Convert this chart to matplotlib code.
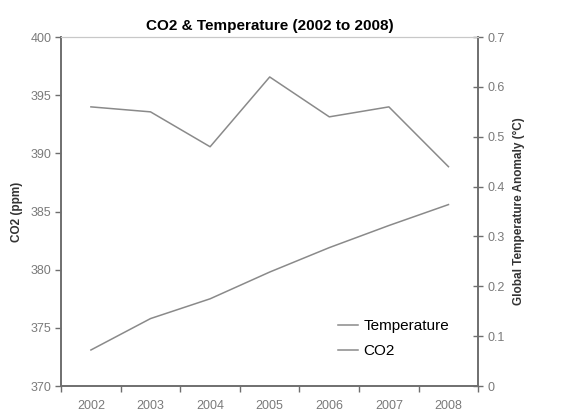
import numpy as np
import matplotlib

matplotlib.use("Agg")
import matplotlib.pyplot as plt

plt.rcParams["font.family"] = ["Liberation Sans", "DejaVu Sans"]

# Data
years = ["2002", "2003", "2004", "2005", "2006", "2007", "2008"]
co2_ppm = [373.1, 375.8, 377.5, 379.8, 381.9, 383.8, 385.6]
temp_anomaly = [0.56, 0.55, 0.48, 0.62, 0.54, 0.56, 0.44]

line_color = "#8a8a8a"
axis_color = "#6e6e6e"
tick_text = "#7a7a7a"

fig = plt.figure(figsize=(5.66, 4.12), dpi=100)
ax = fig.add_axes([0.108, 0.063, 0.737, 0.847])
ax2 = ax.twinx()

x = np.arange(len(years))
l_co2, = ax.plot(x, co2_ppm, color=line_color, lw=1.1, label="CO2")
l_temp, = ax2.plot(x, temp_anomaly, color=line_color, lw=1.1, label="Temperature")

ax.set_xlim(-0.5, len(years) - 0.5)
ax.set_ylim(370, 400)
ax.set_yticks(np.arange(370, 401, 5))
ax2.set_ylim(0, 0.7)
ax2.set_yticks(np.arange(0, 0.71, 0.1))
ax2.set_yticklabels(["0", "0.1", "0.2", "0.3", "0.4", "0.5", "0.6", "0.7"])

# x ticks sit between categories, labels at the centres
ax.set_xticks(np.arange(-0.5, len(years), 1.0))
ax.set_xticklabels([])
ax.set_xticks(x, minor=True)
ax.set_xticklabels(years, minor=True)
ax.tick_params(axis="x", which="minor", length=0, pad=10, labelsize=9, labelcolor=tick_text)
ax.tick_params(axis="x", which="major", direction="out", length=4, color=axis_color, width=1)
ax.tick_params(axis="y", direction="out", length=4, color=axis_color, width=1,
               labelsize=9, labelcolor=tick_text, pad=3)
ax2.tick_params(axis="y", direction="inout", length=7, color=axis_color, width=1,
                labelsize=9, labelcolor=tick_text, pad=3)

for a in (ax, ax2):
    a.spines["left"].set_color(axis_color)
    a.spines["right"].set_color(axis_color)
    a.spines["bottom"].set_color(axis_color)
    a.spines["top"].set_color("#c8c8c8")
    for s in ("left", "right", "bottom"):
        a.spines[s].set_linewidth(1.2)

ax.set_ylabel("CO2 (ppm)", fontsize=8.5, fontweight="bold", color="#333333", labelpad=5)
ax2.set_ylabel("Global Temperature Anomaly (°C)", fontsize=8.5, fontweight="bold",
               color="#333333", labelpad=6)
ax.set_title("CO2 & Temperature (2002 to 2008)", fontsize=11, fontweight="bold", pad=5)

ax2.legend([l_temp, l_co2], ["Temperature", "CO2"], loc="upper left",
           bbox_to_anchor=(0.598, 0.226), bbox_transform=fig.transFigure,
           frameon=False, fontsize=11, borderpad=0, borderaxespad=0,
           handlelength=1.3, handletextpad=0.35, labelspacing=0.75)

fig.savefig("out.png", dpi=100)
